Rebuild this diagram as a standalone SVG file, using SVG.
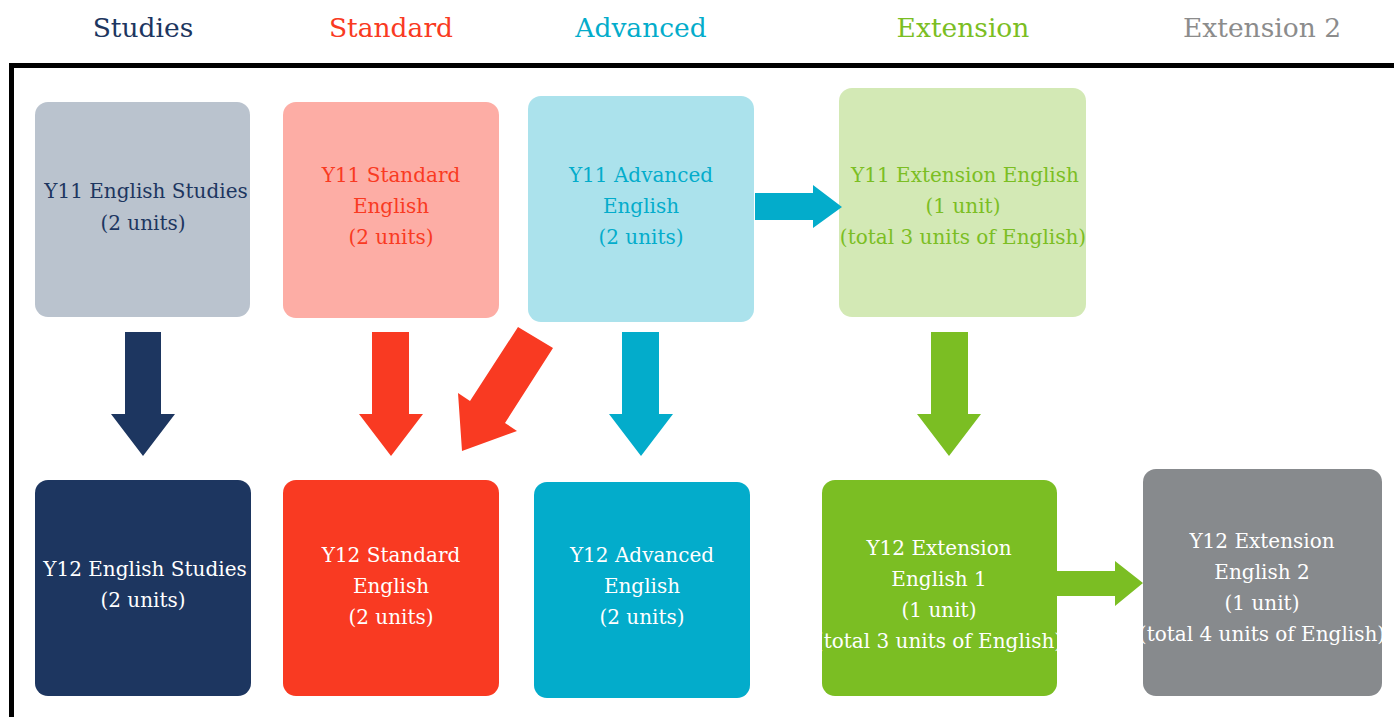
<svg xmlns="http://www.w3.org/2000/svg" width="1394" height="717" viewBox="0 0 1394 717">
<style>
text{font-family:"DejaVu Serif","Liberation Serif",serif;text-anchor:middle}
.h{font-size:26.5px}
.t{font-size:20px}
.w{fill:#ffffff}
</style>
<rect width="1394" height="717" fill="#ffffff"/>
<g id="headers">
<text class="h" x="143" y="37" fill="#1D3660">Studies</text>
<text class="h" x="391" y="37" fill="#F93A22">Standard</text>
<text class="h" x="641" y="37" fill="#03ACCB">Advanced</text>
<text class="h" x="963" y="37" fill="#7BBE23">Extension</text>
<text class="h" x="1262" y="37" fill="#8C8C8C">Extension 2</text>
</g>
<path id="frame" d="M11.5 717V65.5H1394" fill="none" stroke="#000" stroke-width="5"/>
<g id="y11-studies">
<rect x="35" y="102" width="215" height="215" rx="13" fill="#BAC3CE"/>
<text class="t" fill="#1D3660"><tspan x="146" y="198">Y11 English Studies</tspan><tspan x="143" y="230">(2 units)</tspan></text>
</g>
<g id="y11-standard">
<rect x="283" y="102" width="216" height="216" rx="13" fill="#FDADA5"/>
<text class="t" fill="#F93A22"><tspan x="391" y="182">Y11 Standard</tspan><tspan x="391" y="213">English</tspan><tspan x="391" y="244">(2 units)</tspan></text>
</g>
<g id="y11-advanced">
<rect x="528" y="96" width="226" height="226" rx="13" fill="#ABE2EC"/>
<text class="t" fill="#03ACCB"><tspan x="641" y="182">Y11 Advanced</tspan><tspan x="641" y="213">English</tspan><tspan x="641" y="244">(2 units)</tspan></text>
</g>
<g id="y11-extension">
<rect x="839" y="88" width="247" height="229" rx="13" fill="#D3E9B5"/>
<text class="t" fill="#7BBE23"><tspan x="965" y="182">Y11 Extension English</tspan><tspan x="963" y="213">(1 unit)</tspan><tspan x="963" y="244">(total 3 units of English)</tspan></text>
</g>
<g id="y12-studies">
<rect x="35" y="480" width="216" height="216" rx="13" fill="#1D3660"/>
<text class="t w"><tspan x="145" y="576">Y12 English Studies</tspan><tspan x="143" y="607">(2 units)</tspan></text>
</g>
<g id="y12-standard">
<rect x="283" y="480" width="216" height="216" rx="13" fill="#F93A22"/>
<text class="t w"><tspan x="391" y="562">Y12 Standard</tspan><tspan x="391" y="593">English</tspan><tspan x="391" y="624">(2 units)</tspan></text>
</g>
<g id="y12-advanced">
<rect x="534" y="482" width="216" height="216" rx="13" fill="#03ACCB"/>
<text class="t w"><tspan x="642" y="562">Y12 Advanced</tspan><tspan x="642" y="593">English</tspan><tspan x="642" y="624">(2 units)</tspan></text>
</g>
<g id="y12-extension1">
<rect x="822" y="480" width="235" height="216" rx="13" fill="#7BBE23"/>
<text class="t w"><tspan x="939" y="555">Y12 Extension</tspan><tspan x="939" y="586">English 1</tspan><tspan x="939" y="617">(1 unit)</tspan><tspan x="939" y="648">(total 3 units of English)</tspan></text>
</g>
<g id="y12-extension2">
<rect x="1143" y="469" width="239" height="227" rx="13" fill="#878A8D"/>
<text class="t w"><tspan x="1262" y="548">Y12 Extension</tspan><tspan x="1262" y="579">English 2</tspan><tspan x="1262" y="610">(1 unit)</tspan><tspan x="1262" y="641">(total 4 units of English)</tspan></text>
</g>
<g id="connectors">
<polygon points="125,332 161,332 161,414 175,414 143,456 111,414 125,414" fill="#1D3660"/>
<polygon points="372,332 409,332 409,414 423,414 391,456 359,414 372,414" fill="#F93A22"/>
<polygon points="518,327 553,348 505,423 517,431 462,451 458,393 470,401" fill="#F93A22"/>
<polygon points="622,332 659,332 659,414 673,414 641,456 609,414 622,414" fill="#03ACCB"/>
<polygon points="931,332 968,332 968,414 981,414 949,456 917,414 931,414" fill="#7BBE23"/>
<polygon points="755,193 813,193 813,185 842,207 813,228 813,220 755,220" fill="#03ACCB"/>
<polygon points="1057,571 1115,571 1115,561 1143,583 1115,606 1115,596 1057,596" fill="#7BBE23"/>
</g>
</svg>
